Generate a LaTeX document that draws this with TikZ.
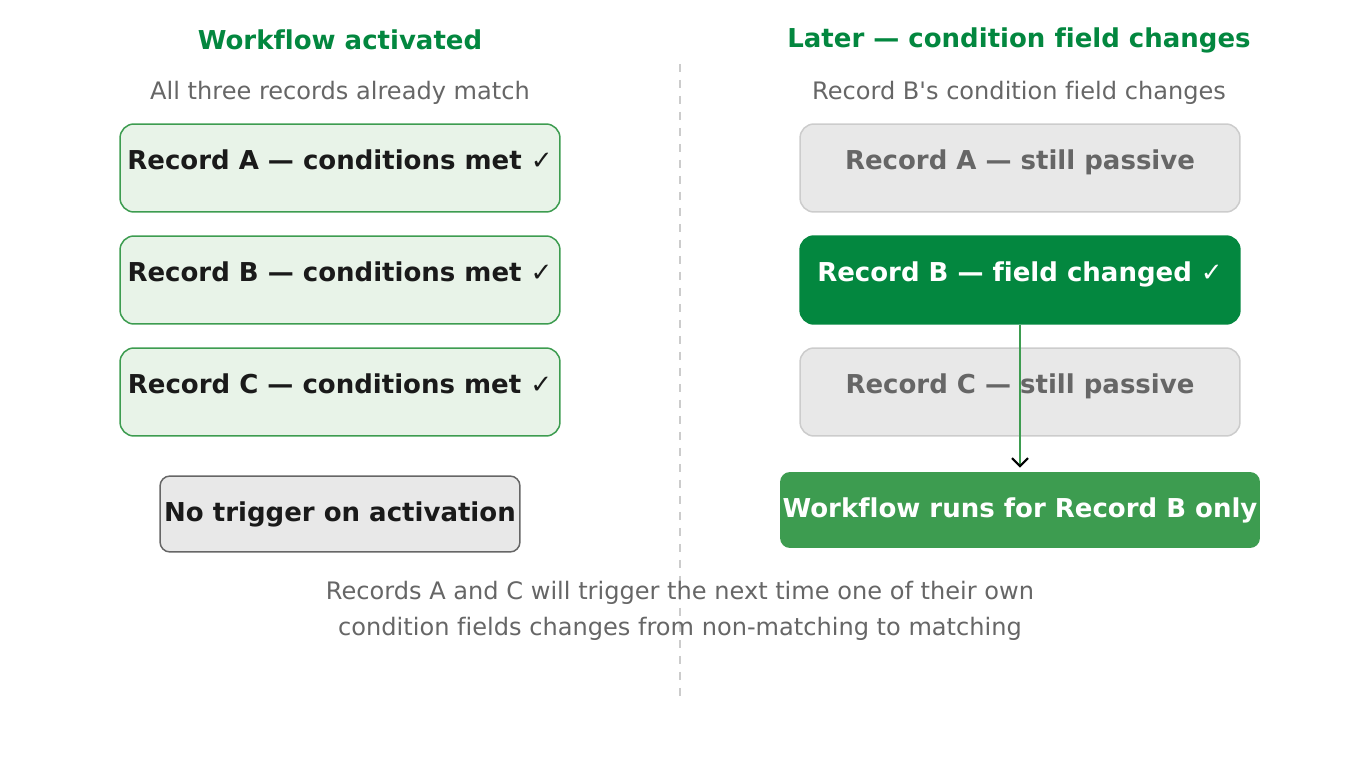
\documentclass[tikz,border=0pt]{standalone}
\usepackage{fontspec}
\setmainfont{DejaVu Sans}[Ligatures={TeXOff,NoCommon}]
\usepackage{xcolor}
\usetikzlibrary{arrows.meta, positioning}
\definecolor{okGreen}{HTML}{03873F}
\definecolor{runGreen}{HTML}{3D9C50}
\definecolor{metFill}{HTML}{E8F3E8}
\definecolor{idleFill}{HTML}{E8E8E8}
\definecolor{idleLine}{HTML}{CCCCCC}
\definecolor{muted}{HTML}{666666}
\definecolor{ink}{HTML}{1A1A1A}

\newcommand{\tick}{{\mdseries ✓}}

\begin{document}
\begin{tikzpicture}[
  x=0.02cm, y=-0.02cm,
  every node/.style={color=ink},
  colTitle/.style={font=\bfseries\fontsize{14.8}{17}\selectfont, color=okGreen},
  colSub/.style={font=\fontsize{13.7}{16}\selectfont, color=muted},
  recBox/.style={
    rectangle, rounded corners=0.28cm, line width=0.85pt,
    minimum width=8.8cm, inner sep=0pt,
    text height=0.91cm, text depth=0.85cm,
    font=\bfseries\fontsize{14.8}{17}\selectfont
  },
  metBox/.style={recBox, draw=runGreen, fill=metFill, text=ink},
  idleBox/.style={recBox, draw=idleLine, fill=idleFill, text=muted},
  hotBox/.style={recBox, draw=okGreen, fill=okGreen, text=white},
  resultBox/.style={
    rectangle, rounded corners=0.2cm, inner sep=0pt,
    minimum height=1.52cm, align=center,
    font=\bfseries\fontsize{14.8}{17}\selectfont
  },
  flowArr/.style={-{Straight Barb[length=0.16cm, width=0.32cm, color=black, line width=1.2pt]},
    draw=runGreen, line width=1.3pt},
  divider/.style={draw=idleLine, line width=1.1pt, dash pattern=on 0.16cm off 0.16cm},
  note/.style={font=\fontsize{13.7}{20.4}\selectfont, color=muted, align=center}
]
\useasboundingbox (0,0) rectangle (1360,760);

% --- column headings ---
\node[colTitle] (titleL) at (340,40) {Workflow activated};
\node[colTitle] (titleR) at (1019,40) {Later — condition field changes};
\node[colSub] (subL) at (340,93) {All three records already match};
\node[colSub] (subR) at (1019,93) {Record B's condition field changes};

% --- divider ---
\coordinate (divTop) at (680,64);
\coordinate (divBot) at (680,696);
\draw[divider] (divTop) -- (divBot);

% --- left: on activation ---
\node[metBox] (recA) at (340,168) {Record A — conditions met \tick};
\node[metBox] (recB) at (340,280) {Record B — conditions met \tick};
\node[metBox] (recC) at (340,392) {Record C — conditions met \tick};
\node[resultBox, minimum width=7.2cm, draw=muted, line width=0.85pt, fill=idleFill, text=ink]
  (noTrig) at (340,514) {No trigger on activation};

% --- right: later change ---
\node[idleBox] (pasA) at (1020,168) {Record A — still passive};
\node[hotBox] (chgB) at (1020,280) {Record B — field changed \tick};
\node[idleBox] (pasC) at (1020,392) {Record C — still passive};
\node[resultBox, minimum width=9.6cm, fill=runGreen, text=white]
  (runB) at (1020,510) {Workflow runs for Record B only};

\draw[flowArr] (chgB.south) -- ([yshift=0.08cm]runB.north);

% --- footnote ---
\node[note] (footNote) at (680,611) {Records A and C will trigger the next time one of their own\\condition fields changes from non-matching to matching};

\end{tikzpicture}
\end{document}
